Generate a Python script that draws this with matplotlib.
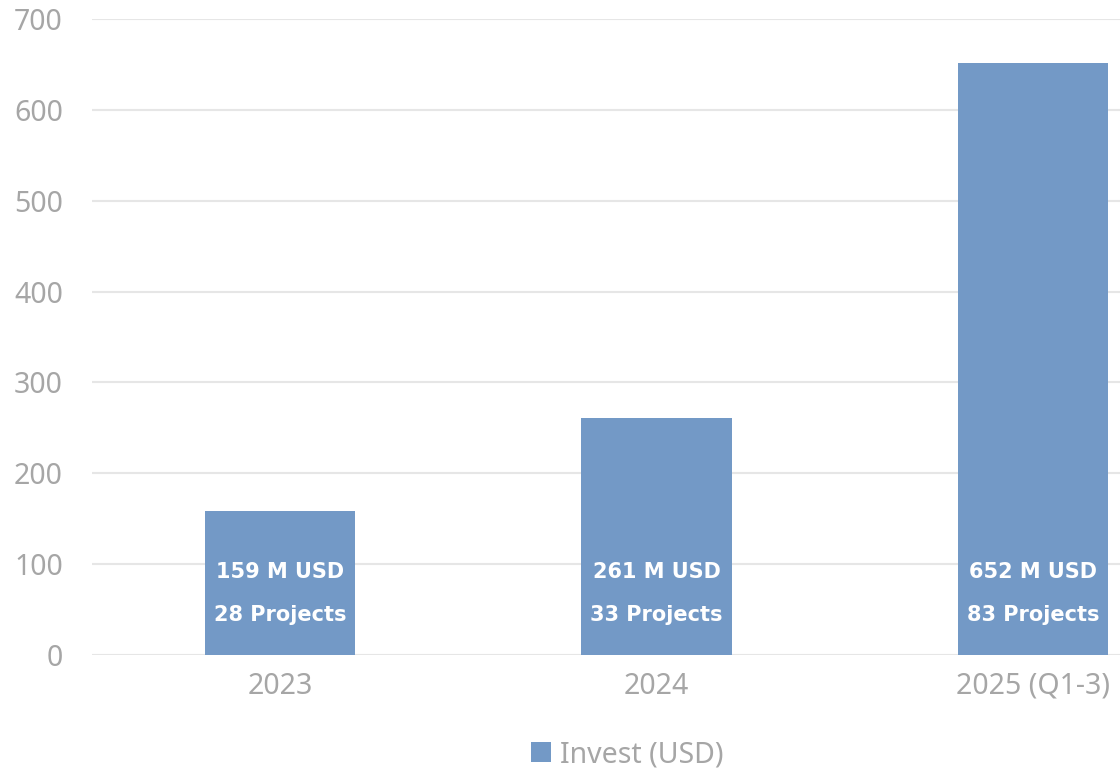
import numpy as np
import matplotlib.pyplot as plt

categories = ['2023', '2024', '2025 (Q1-3)']
invest = [159, 261, 652]
projects = [28, 33, 83]
yticks = [0, 100, 200, 300, 400, 500, 600, 700]

plt.rcParams['font.family'] = ['Noto Sans', 'DejaVu Sans']

fig = plt.figure(figsize=(11.2, 7.71), dpi=100)
# axes spills past the right edge, like the original crop
ax = fig.add_axes([92 / 1120, 116 / 771, 1129 / 1120, 636 / 771])

x = np.arange(len(categories))
bars = ax.bar(x, invest, width=0.4, color='#7399C6', label='Invest (USD)', zorder=3)

for i, (v, p) in enumerate(zip(invest, projects)):
    ax.annotate(f'{v} M USD', xy=(x[i], 0), xytext=(0, 60), textcoords='offset points',
                ha='center', va='center', color='white', fontweight='bold', fontsize=15,
                family='DejaVu Sans', zorder=4)
    ax.annotate(f'{p} Projects', xy=(x[i], 0), xytext=(0, 29), textcoords='offset points',
                ha='center', va='center', color='white', fontweight='bold', fontsize=15,
                family='DejaVu Sans', zorder=4)

ax.set_xlim(-0.5, 2.5)
ax.set_ylim(0, 700)
ax.set_yticks(yticks)
ax.set_xticks(x)
ax.set_xticklabels(categories)
ax.tick_params(axis='both', length=0, colors='#A6A6A6', labelsize=20.5)
ax.tick_params(axis='y', pad=21)
ax.tick_params(axis='x', pad=12)
ax.grid(axis='y', color='#E6E6E6', linewidth=1.5, zorder=0)
for s in ax.spines.values():
    s.set_visible(False)

fig.legend(loc='center', bbox_to_anchor=(0.56, 0.021), frameon=False, fontsize=20.5,
           handlelength=0.7, handleheight=0.7, handletextpad=0.3, labelcolor='#A6A6A6')

plt.savefig('out.png', dpi=100)
